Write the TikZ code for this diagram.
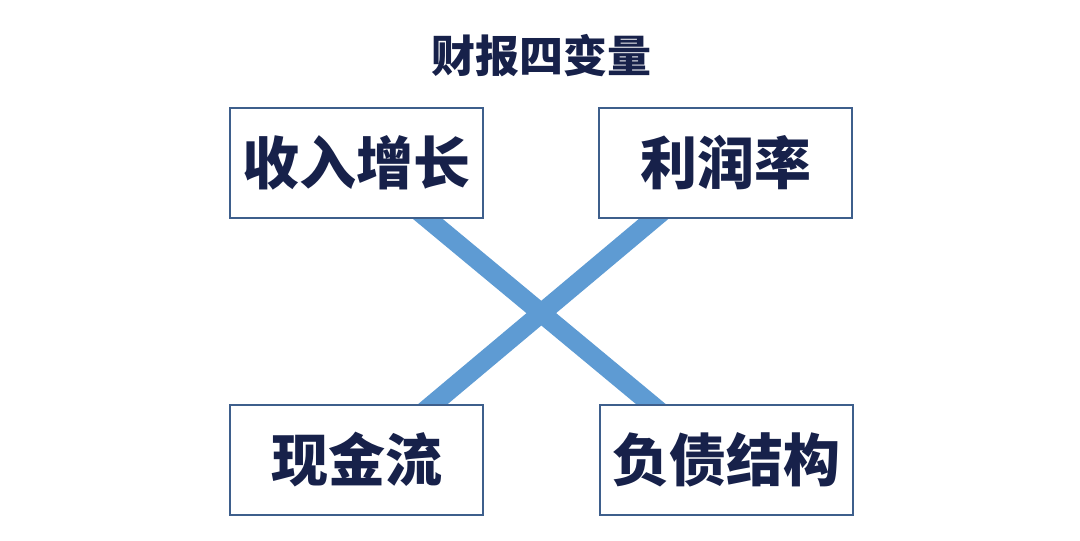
\documentclass[tikz,border=0pt]{standalone}
\usepackage{fontspec}
\newfontfamily\cjk{Noto Sans CJK SC}
\usetikzlibrary{calc,backgrounds}
\definecolor{boxline}{HTML}{3E5F8C}
\definecolor{xblue}{HTML}{5E9BD3}
\definecolor{navy}{HTML}{17214A}
\tikzset{
  varbox/.style={draw=boxline, line width=2pt, fill=white, minimum width=253pt, minimum height=110pt, inner sep=0pt, font=\cjk\bfseries\fontsize{57}{60}\selectfont, text=navy},
  titletext/.style={font=\cjk\bfseries\fontsize{44}{48}\selectfont, text=navy, inner sep=0pt},
  xbar/.style={draw=xblue, line width=19pt, line cap=butt, shorten <=-12pt, shorten >=-12pt}
}
\begin{document}
\begin{tikzpicture}[x=1pt,y=-1pt]
\useasboundingbox (0,0) rectangle (1080,541);
\node[titletext] (title) at (541,56) {财报四变量};
\node[varbox] (tl) at (356.5,163) {收入增长};
\node[varbox] (tr) at (725.5,162.5) {利润率};
\node[varbox] (bl) at (356.5,460) {现金流};
\node[varbox] (br) at (726,460) {负债结构};
\begin{pgfonlayer}{background}
\coordinate (a1) at ($(tl.south west)!0.78!(tl.south east)$);
\coordinate (a2) at ($(br.north west)!0.205!(br.north east)$);
\coordinate (b1) at ($(tr.south west)!0.22!(tr.south east)$);
\coordinate (b2) at ($(bl.north west)!0.80!(bl.north east)$);
\draw[xbar] (a1) -- (a2);
\draw[xbar] (b1) -- (b2);
\end{pgfonlayer}
\end{tikzpicture}
\end{document}
